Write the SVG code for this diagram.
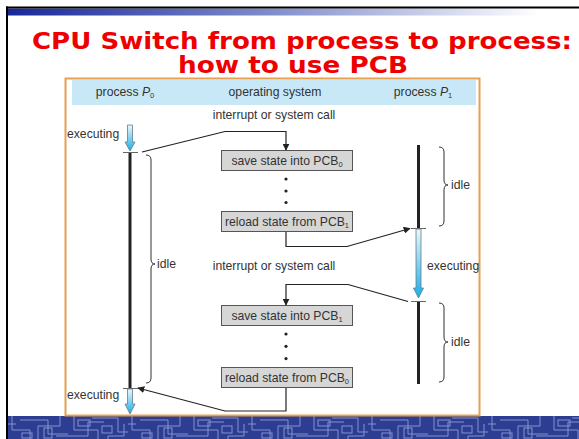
<svg xmlns="http://www.w3.org/2000/svg" width="579" height="439" viewBox="0 0 579 439">
<defs>
<style>
.lbl{font-family:"Liberation Sans",Arial,sans-serif;font-size:12.2px;fill:#333}
.title{font-family:"DejaVu Sans",Verdana,sans-serif;font-weight:bold;font-size:23px;fill:#ee0000}
.box{fill:#d6d6d6;stroke:#555;stroke-width:1}
.con{fill:none;stroke:#222;stroke-width:1.2}
.tl{stroke:#222;stroke-width:3}
.tick{stroke:#666;stroke-width:1}
.brace{fill:none;stroke:#333;stroke-width:1}
.dot{fill:#222}
.barrow{fill:url(#bg);stroke:#6a7a88;stroke-width:0.8}
</style>
<linearGradient id="stripe" x1="0" y1="0" x2="1" y2="0">
<stop offset="0" stop-color="#17279a"/>
<stop offset="0.45" stop-color="#7d8bcb"/>
<stop offset="0.93" stop-color="#ffffff"/>
</linearGradient>
<linearGradient id="bg" x1="0" y1="0" x2="0" y2="1">
<stop offset="0" stop-color="#eef7fb"/>
<stop offset="1" stop-color="#17aee6"/>
</linearGradient>
<marker id="ah" viewBox="0 0 10 10" refX="9" refY="5" markerWidth="7" markerHeight="7" markerUnits="userSpaceOnUse" orient="auto">
<path d="M0,0 L10,5 L0,10 z" fill="#222"/>
</marker>
<pattern id="maze" x="8" y="416" width="120" height="24" patternUnits="userSpaceOnUse">
<rect width="120" height="24" fill="#2d3e92"/>
<g fill="none" stroke="#8292cf" stroke-width="1">
<path d="M4,0 V14 H22 V24"/>
<path d="M12,4 H40 V18 H60"/>
<path d="M30,24 V10 H52 V0"/>
<path d="M48,20 H80 V6 H96"/>
<path d="M66,0 V14 H90 V24"/>
<path d="M84,2 H110 V16 H120"/>
<path d="M100,24 V20 H116 V8"/>
<path d="M0,8 H8"/>
<rect x="14" y="17" width="10" height="5"/>
<rect x="70" y="4" width="12" height="6"/>
<rect x="36" y="12" width="8" height="10"/>
<rect x="94" y="10" width="10" height="7"/>
</g>
</pattern>
</defs>

<!-- slide frame -->
<rect x="0" y="0" width="579" height="439" fill="#ffffff"/>
<rect x="8" y="8.5" width="571" height="7" fill="url(#stripe)"/>
<rect x="6" y="6.5" width="573" height="2" fill="#000"/>
<rect x="6" y="6.5" width="2" height="433" fill="#000"/>
<rect x="8" y="416" width="571" height="23" fill="url(#maze)"/>

<!-- title -->
<text class="title" x="302" y="49" text-anchor="middle" textLength="540" lengthAdjust="spacingAndGlyphs">CPU Switch from process to process:</text>
<text class="title" x="293" y="73" text-anchor="middle" textLength="230" lengthAdjust="spacingAndGlyphs">how to use PCB</text>

<!-- figure frame -->
<rect x="65.5" y="78.5" width="414" height="337" fill="#ffffff" stroke="#e8a050" stroke-width="2"/>
<rect x="72" y="80" width="404" height="25" fill="#c8e8f7"/>

<g id="header">
<text class="lbl" x="125" y="96" text-anchor="middle">process <tspan font-style="italic">P</tspan><tspan font-size="7.5" dy="2">0</tspan></text>
<text class="lbl" x="275" y="96" text-anchor="middle">operating system</text>
<text class="lbl" x="423" y="96" text-anchor="middle">process <tspan font-style="italic">P</tspan><tspan font-size="7.5" dy="2">1</tspan></text>
</g>

<!-- process P0 -->
<g id="p0">
<text class="lbl" x="67" y="138">executing</text>
<path class="barrow" d="M127.5,125 H132.5 V142 H135 L130,151 L125,142 H127.5 Z"/>
<line class="tick" x1="123" y1="152.5" x2="138" y2="152.5"/>
<line class="tl" x1="130" y1="153" x2="130" y2="388"/>
<line class="tick" x1="123" y1="388.5" x2="138" y2="388.5"/>
<path class="barrow" d="M127.5,389 H132.5 V404 H135 L130,414 L125,404 H127.5 Z"/>
<text class="lbl" x="67" y="399">executing</text>
<path class="brace" d="M146,155 Q151,155 151,160 L151,259 Q151,264 155,264 Q151,264 151,269 L151,378 Q151,383 146,383"/>
<text class="lbl" x="157" y="268">idle</text>
</g>

<!-- process P1 -->
<g id="p1">
<line class="tl" x1="418.5" y1="145" x2="418.5" y2="228"/>
<line class="tick" x1="411" y1="228.5" x2="426" y2="228.5"/>
<path class="barrow" d="M416,229 H421 V288 H423.5 L418.5,298 L413.5,288 H416 Z"/>
<line class="tick" x1="411" y1="301.5" x2="426" y2="301.5"/>
<line class="tl" x1="418.5" y1="302" x2="418.5" y2="384"/>
<text class="lbl" x="427" y="270">executing</text>
<path class="brace" d="M439,147 Q444,147 444,152 L444,180 Q444,185 448,185 Q444,185 444,190 L444,221 Q444,226 439,226"/>
<text class="lbl" x="451" y="189">idle</text>
<path class="brace" d="M439,303 Q444,303 444,308 L444,337 Q444,342 448,342 Q444,342 444,347 L444,377 Q444,382 439,382"/>
<text class="lbl" x="451" y="346">idle</text>
</g>

<!-- operating system -->
<g id="os1">
<text class="lbl" x="274" y="119" text-anchor="middle">interrupt or system call</text>
</g>
<g id="save0">
<rect class="box" x="221.5" y="150.5" width="131" height="20"/>
<text class="lbl" x="287" y="165" text-anchor="middle">save state into PCB<tspan font-size="7.5" dy="2">0</tspan></text>
</g>
<g id="dots1">
<circle class="dot" cx="286" cy="179" r="1.6"/>
<circle class="dot" cx="286" cy="191" r="1.6"/>
<circle class="dot" cx="286" cy="202.5" r="1.6"/>
</g>
<g id="reload1">
<rect class="box" x="221.5" y="211.5" width="131" height="20"/>
<text class="lbl" x="287" y="226" text-anchor="middle">reload state from PCB<tspan font-size="7.5" dy="2">1</tspan></text>
</g>
<g id="os2">
<text class="lbl" x="274" y="270" text-anchor="middle">interrupt or system call</text>
</g>
<g id="save1">
<rect class="box" x="221.5" y="305.5" width="131" height="20"/>
<text class="lbl" x="287" y="320" text-anchor="middle">save state into PCB<tspan font-size="7.5" dy="2">1</tspan></text>
</g>
<g id="dots2">
<circle class="dot" cx="286" cy="334" r="1.6"/>
<circle class="dot" cx="286" cy="346.3" r="1.6"/>
<circle class="dot" cx="286" cy="358.6" r="1.6"/>
</g>
<g id="reload0">
<rect class="box" x="221.5" y="367.5" width="131" height="20"/>
<text class="lbl" x="287" y="382" text-anchor="middle">reload state from PCB<tspan font-size="7.5" dy="2">0</tspan></text>
</g>

<!-- connectors -->
<g id="connectors">
<polyline class="con" points="142,152 225,131.5 286,131.5 286,150" marker-end="url(#ah)"/>
<polyline class="con" points="286,232 286,246.5 347,246.5 410,228.5" marker-end="url(#ah)"/>
<polyline class="con" points="408,301.5 348,284.5 286,284.5 286,305" marker-end="url(#ah)"/>
<polyline class="con" points="286,388 286,411 225,411 138,388" marker-end="url(#ah)"/>
</g>
</svg>
